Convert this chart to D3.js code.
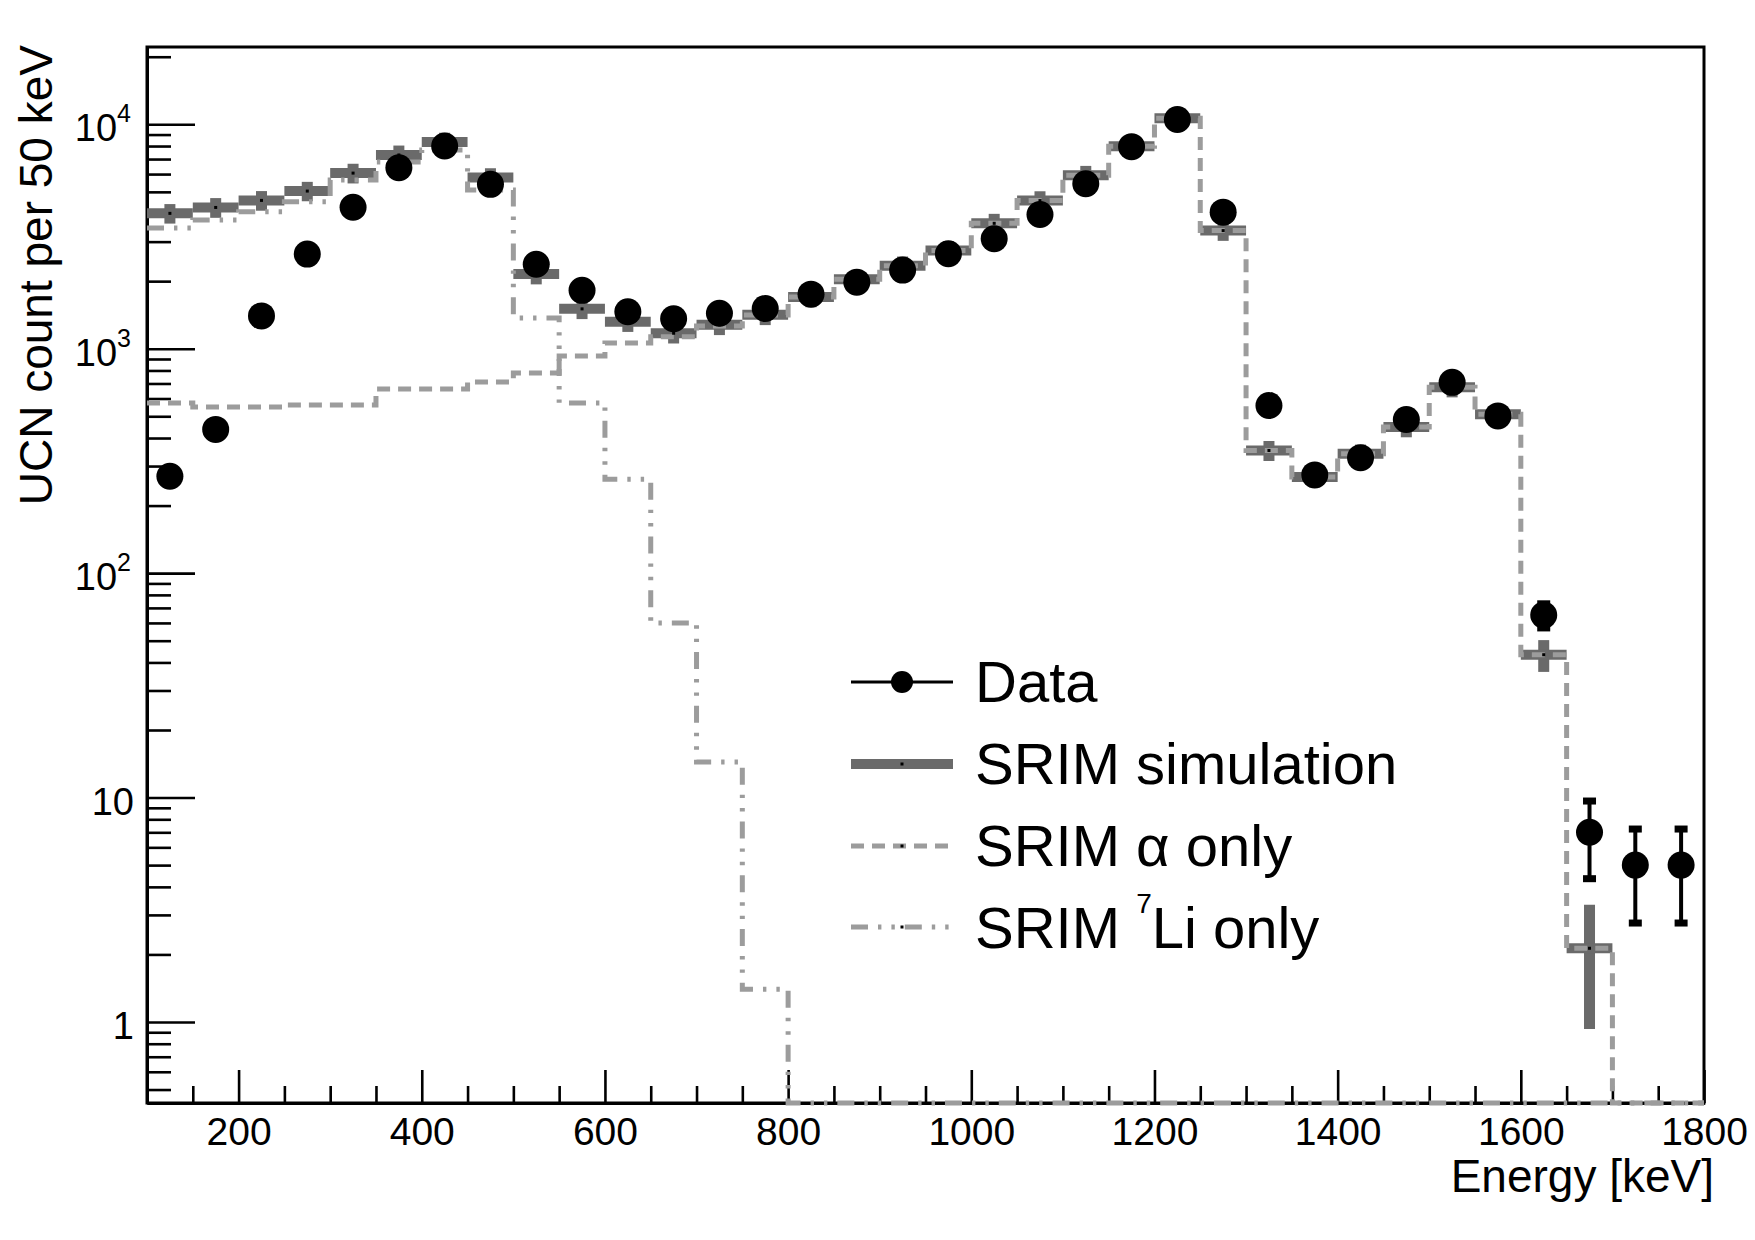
<!DOCTYPE html>
<html>
<head>
<meta charset="utf-8">
<script src="https://cdn.jsdelivr.net/npm/d3@7"></script>
<style>
  body { margin: 0; background: #fff; }
  text { font-family: "Liberation Sans", Arial, Helvetica, sans-serif; fill: #000; }
</style>
</head>
<body>
<script>

// energy bins (centre, keV), each 50 keV wide
var binCentres = [125, 175, 225, 275, 325, 375, 425, 475, 525, 575, 625, 675, 725, 775, 825, 875, 925,
                  975, 1025, 1075, 1125, 1175, 1225, 1275, 1325, 1375, 1425, 1475, 1525, 1575, 1625, 1675, 1725, 1775];

// measured UCN counts and their errors
var dataCounts = [270, 437, 1400, 2640, 4270, 6400, 8000, 5400, 2380, 1820, 1460, 1360, 1440, 1510, 1750, 1980, 2240,
                  2650, 3090, 3960, 5430, 7950, 10500, 4060, 558, 274, 327, 484, 708, 502, 65, 7, 5, 5];
var dataErr = [16, 21, 37, 51, 65, 80, 90, 74, 49, 43, 38, 37, 38, 39, 42, 45, 48,
               52, 56, 63, 74, 89, 103, 64, 24, 17, 18, 22, 27, 22, 8, 2.65, 2.24, 2.24];

// SRIM simulation (total)
var simCounts = [4010, 4260, 4580, 5040, 6060, 7300, 8330, 5790, 2150, 1505, 1318, 1172, 1278, 1416, 1700, 2040, 2340,
                 2740, 3620, 4570, 5930, 7990, 10650, 3360, 352, 268, 340, 448, 674, 511, 43.3, 2.13, 0, 0];
var simErr = [400, 430, 460, 500, 610, 740, 840, 580, 215, 150, 130, 117, 128, 142, 170, 205, 236,
              275, 370, 460, 595, 800, 1065, 336, 36, 27, 34, 45, 67, 51, 7, 1.2, 0, 0];

// SRIM alpha only / 7Li only
var alphaCounts = [573, 550, 550, 562, 562, 661, 661, 711, 780, 929, 1061, 1130, 1263, 1414, 1700, 2040, 2340,
                   2740, 3620, 4570, 5930, 7990, 10650, 3360, 352, 268, 340, 448, 674, 511, 43.3, 2.13, 0, 0];
var liCounts = [3450, 3750, 4080, 4520, 5650, 6800, 7690, 5100, 1372, 573, 262, 60, 14.4, 1.4, 0, 0, 0,
                0, 0, 0, 0, 0, 0, 0, 0, 0, 0, 0, 0, 0, 0, 0, 0, 0];

// axis ticks
var xMajorTicks = [200, 400, 600, 800, 1000, 1200, 1400, 1600, 1800];
var xMinorTicks = [150, 250, 300, 350, 450, 500, 550, 650, 700, 750, 850, 900, 950, 1050, 1100, 1150,
                   1250, 1300, 1350, 1450, 1500, 1550, 1650, 1700, 1750];
var yMajorTicks = [1, 10, 100, 1000, 10000];
var yLabelBase = ["1", "10", "10", "10", "10"];
var yLabelExp = ["", "", "2", "3", "4"];
var yMinorTicks = [0.5, 0.6, 0.7, 0.8, 0.9, 2, 3, 4, 5, 6, 7, 8, 9, 20, 30, 40, 50, 60, 70, 80, 90,
                   200, 300, 400, 500, 600, 700, 800, 900, 2000, 3000, 4000, 5000, 6000, 7000, 8000, 9000, 20000];

var legendNames = ["Data", "SRIM simulation", "SRIM \u03b1 only", "SRIM 7Li only"];

var binWidth = 50;

var simColor = "#6a6a6a",
    lightColor = "#9c9c9c";

var margin = {
        top: 47,
        right: 51,
        bottom: 137,
        left: 147
      },
      width = 1755 - margin.left - margin.right,
      height = 1240 - margin.top - margin.bottom;

// set the ranges
var x = d3.scaleLinear().domain([100, 1800]).range([0, width]);
var y = d3.scaleLog().domain([0.4355, 22100]).range([height, 0]);
var yFloor = y.domain()[0];

var svg = d3.select("body").append("svg")
    .attr("width", width + margin.left + margin.right)
    .attr("height", height + margin.top + margin.bottom)
    .style("background", "#fff")
  .append("g")
    .attr("transform", "translate(" + margin.left + "," + margin.top + ")");

// x axis: minor then major ticks (pointing inwards)
var xMinor = svg.append("g")
    .attr("transform", "translate(0," + height + ")")
    .call(d3.axisBottom(x).tickValues(xMinorTicks).tickSize(-17).tickSizeOuter(0).tickFormat(""));
var xMajor = svg.append("g")
    .attr("transform", "translate(0," + height + ")")
    .call(d3.axisBottom(x).tickValues(xMajorTicks).tickSize(-33).tickSizeOuter(0).tickPadding(14)
      .tickFormat(d3.format("d")));

// y axis
var yMinor = svg.append("g")
    .call(d3.axisLeft(y).tickValues(yMinorTicks).tickSize(-24).tickSizeOuter(0).tickFormat(""));
var yMajor = svg.append("g")
    .call(d3.axisLeft(y).tickValues(yMajorTicks).tickSize(-48).tickSizeOuter(0).tickFormat(""));

[xMinor, xMajor, yMinor, yMajor].forEach(function(g) {
  g.selectAll(".tick line").attr("stroke", "#000").attr("stroke-width", 2.6);
  g.select(".domain").attr("stroke", "#000").attr("stroke-width", 3);
});
xMajor.selectAll(".tick text").style("font-size", "39px").attr("fill", "#000");

// y tick labels with exponents
yMajorTicks.forEach(function(v, i) {
  var t = svg.append("text")
      .attr("x", yLabelExp[i] ? -16 : -13)
      .attr("y", y(v) + 17)
      .attr("text-anchor", "end")
      .style("font-size", "38px")
      .text(yLabelBase[i]);
  if (yLabelExp[i]) {
    t.append("tspan").attr("dy", -19).style("font-size", "25px").text(yLabelExp[i]);
  }
});

// frame
svg.append("rect")
    .attr("x", 0).attr("y", 0)
    .attr("width", width).attr("height", height)
    .attr("fill", "none").attr("stroke", "#000").attr("stroke-width", 3);

// axis titles
svg.append("text")
    .attr("transform", "translate(" + (52 - margin.left) + "," + (45 - margin.top) + ") rotate(-90)")
    .attr("text-anchor", "end")
    .style("font-size", "46px")
    .text("UCN count per 50 keV");

svg.append("text")
    .attr("x", width + 10)
    .attr("y", height + 89)
    .attr("text-anchor", "end")
    .style("font-size", "46px")
    .text("Energy [keV]");

// SRIM simulation: thick bin bars with error bars
var sim = binCentres.map(function(c, i) { return {c: c, v: simCounts[i], e: simErr[i]}; })
    .filter(function(d) { return d.v > 0; });

svg.append("g").selectAll("line").data(sim).enter().append("line")
    .attr("x1", function(d) { return x(d.c); })
    .attr("x2", function(d) { return x(d.c); })
    .attr("y1", function(d) { return y(d.v + d.e); })
    .attr("y2", function(d) { return y(Math.max(d.v - d.e, yFloor)); })
    .attr("stroke", simColor).attr("stroke-width", 11);

svg.append("g").selectAll("line").data(sim).enter().append("line")
    .attr("x1", function(d) { return x(d.c - binWidth / 2); })
    .attr("x2", function(d) { return x(d.c + binWidth / 2); })
    .attr("y1", function(d) { return y(d.v); })
    .attr("y2", function(d) { return y(d.v); })
    .attr("stroke", simColor).attr("stroke-width", 10);

// step lines for the partial simulations
function stepPoints(values) {
  var pts = binCentres.map(function(c, i) {
    return [c - binWidth / 2, Math.max(values[i], yFloor)];
  });
  var last = binCentres.length - 1;
  pts.push([binCentres[last] + binWidth / 2, Math.max(values[last], yFloor)]);
  return pts;
}

var stepLine = d3.line()
    .x(function(d) { return x(d[0]); })
    .y(function(d) { return y(d[1]); })
    .curve(d3.curveStepAfter);

svg.append("path")
    .datum(stepPoints(alphaCounts))
    .attr("d", stepLine)
    .attr("fill", "none")
    .attr("stroke", lightColor).attr("stroke-width", 5)
    .attr("stroke-dasharray", "13,8");

svg.append("path")
    .datum(stepPoints(liCounts))
    .attr("d", stepLine)
    .attr("fill", "none")
    .attr("stroke", lightColor).attr("stroke-width", 5)
    .attr("stroke-dasharray", "17,10,3.4,10,3.4,10");

// tiny marker dots of the simulation
svg.append("g").selectAll("rect").data(sim).enter().append("rect")
    .attr("x", function(d) { return x(d.c) - 1.5; })
    .attr("y", function(d) { return y(d.v) - 1.5; })
    .attr("width", 3).attr("height", 3)
    .attr("fill", "#000");

// data points with error bars
var pts = binCentres.map(function(c, i) { return {c: c, v: dataCounts[i], e: dataErr[i]}; });

svg.append("g").selectAll("line").data(pts).enter().append("line")
    .attr("x1", function(d) { return x(d.c); })
    .attr("x2", function(d) { return x(d.c); })
    .attr("y1", function(d) { return y(d.v + d.e); })
    .attr("y2", function(d) { return y(d.v - d.e); })
    .attr("stroke", "#000").attr("stroke-width", 4);

svg.append("g").selectAll("rect").data(pts.concat(pts)).enter().append("rect")
    .attr("x", function(d) { return x(d.c) - 6.5; })
    .attr("y", function(d, i) { return y(i < pts.length ? d.v + d.e : d.v - d.e) - 3.5; })
    .attr("width", 13).attr("height", 7)
    .attr("fill", "#000");

svg.append("g").selectAll("circle").data(pts).enter().append("circle")
    .attr("cx", function(d) { return x(d.c); })
    .attr("cy", function(d) { return y(d.v); })
    .attr("r", 13.5)
    .attr("fill", "#000");

// legend
var legend = svg.append("g").attr("transform", "translate(" + (851 - margin.left) + "," + (682 - margin.top) + ")");
var rowGap = 82, symLen = 102;

legend.append("line").attr("x1", 0).attr("x2", symLen).attr("y1", 0).attr("y2", 0)
    .attr("stroke", "#000").attr("stroke-width", 3);
legend.append("circle").attr("cx", symLen / 2).attr("cy", 0).attr("r", 11).attr("fill", "#000");

legend.append("line").attr("x1", 0).attr("x2", symLen).attr("y1", rowGap).attr("y2", rowGap)
    .attr("stroke", simColor).attr("stroke-width", 10);

legend.append("line").attr("x1", 0).attr("x2", symLen).attr("y1", rowGap * 2).attr("y2", rowGap * 2)
    .attr("stroke", lightColor).attr("stroke-width", 5).attr("stroke-dasharray", "13,8");

legend.append("line").attr("x1", 0).attr("x2", symLen).attr("y1", rowGap * 3 - 1).attr("y2", rowGap * 3 - 1)
    .attr("stroke", lightColor).attr("stroke-width", 5).attr("stroke-dasharray", "17,10,3.4,10,3.4,10");

[1, 2, 3].forEach(function(r) {
  legend.append("rect").attr("x", symLen / 2 - 1.5).attr("y", rowGap * r - 1.5 - (r == 3 ? 1 : 0))
      .attr("width", 3).attr("height", 3).attr("fill", "#000");
});

legendNames.forEach(function(name, i) {
  var t = legend.append("text")
      .attr("x", 124)
      .attr("y", rowGap * i + 20)
      .style("font-size", "58px");
  if (name.indexOf("7Li") >= 0) {
    t.append("tspan").text("SRIM ");
    t.append("tspan").attr("dy", -35).style("font-size", "28px").text("7");
    t.append("tspan").attr("dy", 35).text("Li only");
  } else {
    t.text(name);
  }
});

</script>
</body>
</html>
